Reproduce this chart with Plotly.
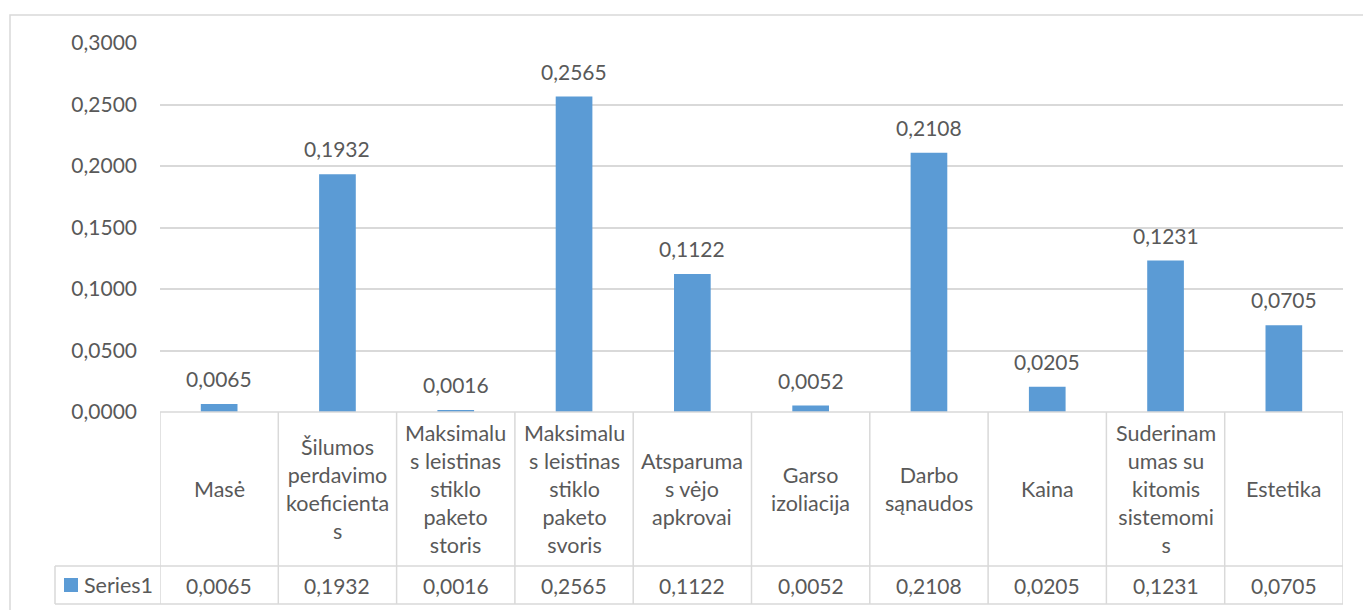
import plotly.graph_objects as go

categories = ["Masė", "Šilumos perdavimo koeficientas", "Maksimalus leistinas stiklo paketo storis",
              "Maksimalus leistinas stiklo paketo svoris", "Atsparumas vėjo apkrovai", "Garso izoliacija",
              "Darbo sąnaudos", "Kaina", "Suderinamumas su kitomis sistemomis", "Estetika"]
header_labels = ["Masė", "Šilumos<br>perdavimo<br>koeficienta<br>s",
                 "Maksimalu<br>s leistinas<br>stiklo<br>paketo<br>storis",
                 "Maksimalu<br>s leistinas<br>stiklo<br>paketo<br>svoris",
                 "Atsparuma<br>s vėjo<br>apkrovai", "Garso<br>izoliacija", "Darbo<br>sąnaudos",
                 "Kaina", "Suderinam<br>umas su<br>kitomis<br>sistemomi<br>s", "Estetika"]
series_name = "Series1"
values = [0.0065, 0.1932, 0.0016, 0.2565, 0.1122, 0.0052, 0.2108, 0.0205, 0.1231, 0.0705]
y_ticks = [0, 0.05, 0.10, 0.15, 0.20, 0.25, 0.30]

W_FIG, H_FIG = 1363, 610
L, R, T, B = 160, 1343, 43, 412
PW, PH = R - L, B - T
TXT = "#595959"
GRID = "#d9d9d9"
BAR = "#5b9bd5"
FONT = "Lato"
FS = 21
FS_HEAD = 21.5


def px(x):
    return (x - L) / PW


def py(y):
    return (B - y) / PH


def fmt(v):
    return f"{v:.4f}".replace(".", ",")


idx = list(range(len(categories)))

fig = go.Figure()
fig.add_trace(go.Bar(x=idx, y=values, width=0.31, marker=dict(color=BAR, line=dict(width=0)),
                     name=series_name, showlegend=False, hoverinfo="y"))

shapes = []
annotations = []

# outer chart border
shapes.append(dict(type="rect", xref="paper", yref="paper", x0=px(10), x1=px(1375),
                   y0=py(625), y1=py(15), line=dict(color=GRID, width=1.5), layer="below"))

# table lines
y_head_bot = 566
y_row_bot = 604
for i in range(len(categories) + 1):
    shapes.append(dict(type="line", xref="x", yref="paper", x0=i - 0.5, x1=i - 0.5,
                       y0=py(B), y1=py(y_row_bot), line=dict(color=GRID, width=1.5)))
shapes.append(dict(type="line", xref="paper", yref="paper", x0=0, x1=1, y0=0, y1=0,
                   line=dict(color=GRID, width=1.5)))
for yy in (y_head_bot, y_row_bot):
    shapes.append(dict(type="line", xref="paper", yref="paper", x0=px(55), x1=1,
                       y0=py(yy), y1=py(yy), line=dict(color=GRID, width=1.5)))
shapes.append(dict(type="line", xref="paper", yref="paper", x0=px(55), x1=px(55),
                   y0=py(y_head_bot), y1=py(y_row_bot), line=dict(color=GRID, width=1.5)))
# legend key
shapes.append(dict(type="rect", xref="paper", yref="paper", x0=px(64), x1=px(78),
                   y0=py(592), y1=py(578), fillcolor=BAR, line=dict(width=0)))
annotations.append(dict(x=px(82), y=py(585), xref="paper", yref="paper", text=series_name,
                        showarrow=False, xanchor="left", yanchor="middle",
                        font=dict(family=FONT, size=FS_HEAD, color=TXT)))

for i, (lab, v) in enumerate(zip(header_labels, values)):
    annotations.append(dict(x=i, y=py(489), xref="x", yref="paper", text=lab, showarrow=False,
                            xanchor="center", yanchor="middle", align="center",
                            font=dict(family=FONT, size=FS_HEAD, color=TXT)))
    annotations.append(dict(x=i, y=py(585), xref="x", yref="paper", text=fmt(v), showarrow=False,
                            xanchor="center", yanchor="middle",
                            font=dict(family=FONT, size=FS, color=TXT)))
    annotations.append(dict(x=i, y=v, xref="x", yref="y", text=fmt(v), showarrow=False,
                            xanchor="center", yanchor="bottom", yshift=11,
                            font=dict(family=FONT, size=FS, color=TXT)))

fig.update_layout(
    width=W_FIG, height=H_FIG, autosize=False,
    margin=dict(l=L, r=W_FIG - R, t=T, b=H_FIG - B, pad=0),
    paper_bgcolor="white", plot_bgcolor="white",
    separators=", ",
    font=dict(family=FONT, size=FS, color=TXT),
    shapes=shapes, annotations=annotations,
    bargap=0.69,
    xaxis=dict(range=[-0.5, len(categories) - 0.5], showticklabels=False, showgrid=False,
               zeroline=False, showline=False, ticks="", fixedrange=True),
    yaxis=dict(range=[0, 0.3], tickvals=y_ticks, tickformat=".4f", showgrid=True,
               gridcolor=GRID, gridwidth=1.5, zeroline=False, showline=False, ticks="",
               ticklabelstandoff=22, tickfont=dict(family=FONT, size=FS, color=TXT),
               fixedrange=True),
)

fig.write_html("out.html")
